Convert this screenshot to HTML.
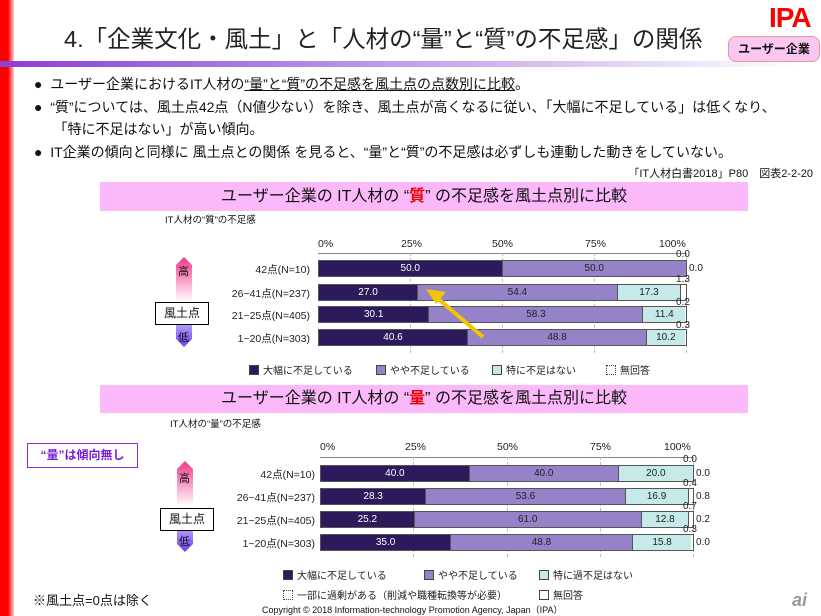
<!DOCTYPE html>
<html><head><meta charset="utf-8">
<style>
*{margin:0;padding:0;box-sizing:border-box}
body{width:821px;height:616px;background:#fff;position:relative;overflow:hidden;font-family:"Liberation Sans","Noto Sans CJK JP",sans-serif;color:#111}
.a{position:absolute;white-space:nowrap}
.bar{position:absolute;height:17px;display:flex;border:1px solid #555}
.bar div{height:100%;font-size:10px;line-height:15px;text-align:center;border-right:1px solid #555}
.d{background:#2d1a5c;color:#fff}.m{background:#9582c9;color:#222}.l{background:#c6e9ea;color:#222}
.s{font-size:10px;color:#222}
.lab{font-size:10.5px;color:#222;text-align:right;width:120px}
.leg{font-size:10px;color:#222}
.sq{display:inline-block;width:10px;height:10px;border:1px solid #444;vertical-align:-1px;margin-right:4px}
.grid{position:absolute;border-left:1px dashed #bbb}
</style></head><body>
<div class="a" style="left:0;top:0;width:14px;height:616px;background:linear-gradient(90deg,#f00 0,#f00 8px,#fcc 14px)"></div>
<div class="a" style="left:64px;top:20px;font-size:23.5px;color:#222">4.「企業文化・風土」と「人材の“量”と“質”の不足感」の関係</div>
<div class="a" style="left:0;top:61px;width:800px;height:6px;background:linear-gradient(90deg,#8a3ed8,#b58be6 40%,#fff)"></div>
<div class="a" style="left:769px;top:2px;font-size:28px;font-weight:bold;color:#f00;letter-spacing:-1px">IPA</div>
<div class="a" style="left:728px;top:36px;width:92px;height:26px;border-radius:8px;background:#fbc6f0;border:1px solid #d9a;font-size:12px;font-weight:bold;line-height:24px;text-align:center">ユーザー企業</div>
<div class="a" style="left:34px;top:73px;font-size:14px;line-height:22.5px">
<div>●&nbsp;&nbsp;ユーザー企業におけるIT人材の<u>“量”と“質”の不足感を風土点の点数別に比較</u>。</div>
<div>●&nbsp;&nbsp;“質”については、風土点42点（N値少ない）を除き、風土点が高くなるに従い、「大幅に不足している」は低くなり、</div>
<div>&nbsp;&nbsp;&nbsp;&nbsp;&nbsp;「特に不足はない」が高い傾向。</div>
<div>●&nbsp;&nbsp;IT企業の傾向と同様に 風土点との関係 を見ると、“量”と“質”の不足感は必ずしも連動した動きをしていない。</div>
</div>
<div class="a" style="right:8px;top:165px;font-size:11px">「IT人材白書2018」P80　図表2-2-20</div>
<div class="a" style="left:100px;top:182px;width:648px;height:29px;background:#fbb8fb;font-size:16px;line-height:29px;text-align:center">ユーザー企業の IT人材の “<span style="color:#e00;font-weight:bold">質</span>” の不足感を風土点別に比較</div>
<div class="a" style="left:165px;top:212px;font-size:9.5px">IT人材の“質”の不足感</div>
<div class="a s" style="left:318px;top:238px;font-size:10.5px">0%</div>
<div class="a s" style="left:401px;top:238px;font-size:10.5px">25%</div>
<div class="a s" style="left:492px;top:238px;font-size:10.5px">50%</div>
<div class="a s" style="left:585px;top:238px;font-size:10.5px">75%</div>
<div class="a s" style="left:659px;top:238px;font-size:10.5px">100%</div>
<div class="a" style="left:318px;top:253px;width:369px;border-top:1px solid #888"></div>
<div class="grid" style="left:410px;top:253px;height:100px"></div>
<div class="grid" style="left:502px;top:253px;height:100px"></div>
<div class="grid" style="left:594px;top:253px;height:100px"></div>
<div class="grid" style="left:686px;top:253px;height:100px"></div>
<div class="a lab" style="left:190px;top:262px">42点(N=10)</div>
<div class="a lab" style="left:190px;top:286px">26~41点(N=237)</div>
<div class="a lab" style="left:190px;top:308px">21~25点(N=405)</div>
<div class="a lab" style="left:190px;top:331px">1~20点(N=303)</div>
<div class="bar" style="left:318px;top:260px;width:369px"><div class="d" style="width:50%">50.0</div><div class="m" style="width:50%;border:0">50.0</div></div>
<div class="bar" style="left:318px;top:284px;width:369px"><div class="d" style="width:27%">27.0</div><div class="m" style="width:54.4%">54.4</div><div class="l" style="width:17.3%">17.3</div></div>
<div class="bar" style="left:318px;top:306px;width:369px"><div class="d" style="width:30.1%">30.1</div><div class="m" style="width:58.3%">58.3</div><div class="l" style="width:11.4%;border:0">11.4</div></div>
<div class="bar" style="left:318px;top:329px;width:369px"><div class="d" style="width:40.6%">40.6</div><div class="m" style="width:48.8%">48.8</div><div class="l" style="width:10.2%;border:0">10.2</div></div>
<div class="a s" style="left:676px;top:249px">0.0</div><div class="a s" style="left:689px;top:263px">0.0</div>
<div class="a s" style="left:676px;top:274px">1.3</div><div class="a s" style="left:676px;top:297px">0.2</div><div class="a s" style="left:676px;top:320px">0.3</div>
<svg class="a" style="left:0;top:0" width="821" height="616"><defs>
<linearGradient id="g" x1="0" y1="0" x2="0" y2="1"><stop offset="0" stop-color="#f0388c"/><stop offset=".5" stop-color="#fff"/><stop offset="1" stop-color="#6a3ef0"/></linearGradient></defs>
<polygon points="184,257 192,265 192,339 184,347 176,339 176,265" fill="url(#g)"/>
<polygon points="185,461 193,469 193,544 185,552 177,544 177,469" fill="url(#g)"/>
<line x1="483" y1="337" x2="436" y2="297" stroke="#f2c500" stroke-width="4"/>
<polygon points="426,289 446,292 436,304" fill="#f2c500"/>
</svg>
<div class="a" style="left:178px;top:263px;font-size:11px">高</div>
<div class="a" style="left:178px;top:329px;font-size:11px">低</div>
<div class="a" style="left:155px;top:302px;width:54px;height:23px;background:#fff;border:1px solid #000;font-size:12px;line-height:21px;text-align:center">風土点</div>
<div class="a leg" style="left:249px;top:362px"><span class="sq" style="background:#2d1a5c"></span>大幅に不足している</div>
<div class="a leg" style="left:376px;top:362px"><span class="sq" style="background:#9582c9"></span>やや不足している</div>
<div class="a leg" style="left:492px;top:362px"><span class="sq" style="background:#c6e9ea"></span>特に不足はない</div>
<div class="a leg" style="left:606px;top:362px"><span class="sq" style="border-style:dotted"></span>無回答</div>
<div class="a" style="left:100px;top:385px;width:648px;height:28px;background:#fbb8fb;font-size:16px;line-height:28px;text-align:center">ユーザー企業の IT人材の “<span style="color:#e00;font-weight:bold">量</span>” の不足感を風土点別に比較</div>
<div class="a" style="left:170px;top:416px;font-size:9.5px">IT人材の“量”の不足感</div>
<div class="a" style="left:27px;top:443px;width:111px;height:25px;border:1px solid #8a2be2;color:#7a1fd8;font-size:12px;font-weight:bold;line-height:23px;text-align:center">“量”は傾向無し</div>
<div class="a s" style="left:320px;top:441px;font-size:10.5px">0%</div>
<div class="a s" style="left:405px;top:441px;font-size:10.5px">25%</div>
<div class="a s" style="left:497px;top:441px;font-size:10.5px">50%</div>
<div class="a s" style="left:590px;top:441px;font-size:10.5px">75%</div>
<div class="a s" style="left:664px;top:441px;font-size:10.5px">100%</div>
<div class="a" style="left:320px;top:457px;width:374px;border-top:1px solid #888"></div>
<div class="grid" style="left:413px;top:457px;height:100px"></div>
<div class="grid" style="left:507px;top:457px;height:100px"></div>
<div class="grid" style="left:600px;top:457px;height:100px"></div>
<div class="grid" style="left:693px;top:457px;height:100px"></div>
<div class="a lab" style="left:195px;top:467px">42点(N=10)</div>
<div class="a lab" style="left:195px;top:490px">26~41点(N=237)</div>
<div class="a lab" style="left:195px;top:513px">21~25点(N=405)</div>
<div class="a lab" style="left:195px;top:536px">1~20点(N=303)</div>
<div class="bar" style="left:320px;top:465px;width:374px"><div class="d" style="width:40%">40.0</div><div class="m" style="width:40%">40.0</div><div class="l" style="width:20%;border:0">20.0</div></div>
<div class="bar" style="left:320px;top:488px;width:374px"><div class="d" style="width:28.3%">28.3</div><div class="m" style="width:53.6%">53.6</div><div class="l" style="width:16.9%">16.9</div></div>
<div class="bar" style="left:320px;top:511px;width:374px"><div class="d" style="width:25.2%">25.2</div><div class="m" style="width:61%">61.0</div><div class="l" style="width:12.8%">12.8</div></div>
<div class="bar" style="left:320px;top:534px;width:374px"><div class="d" style="width:35%">35.0</div><div class="m" style="width:48.8%">48.8</div><div class="l" style="width:15.8%;border:0">15.8</div></div>
<div class="a s" style="left:683px;top:454px">0.0</div><div class="a s" style="left:696px;top:468px">0.0</div>
<div class="a s" style="left:683px;top:478px">0.4</div><div class="a s" style="left:696px;top:491px">0.8</div>
<div class="a s" style="left:683px;top:501px">0.7</div><div class="a s" style="left:696px;top:514px">0.2</div>
<div class="a s" style="left:683px;top:524px">0.3</div><div class="a s" style="left:696px;top:537px">0.0</div>
<div class="a" style="left:179px;top:470px;font-size:11px">高</div>
<div class="a" style="left:179px;top:533px;font-size:11px">低</div>
<div class="a" style="left:160px;top:508px;width:54px;height:23px;background:#fff;border:1px solid #000;font-size:12px;line-height:21px;text-align:center">風土点</div>
<div class="a leg" style="left:283px;top:567px"><span class="sq" style="background:#2d1a5c"></span>大幅に不足している</div>
<div class="a leg" style="left:424px;top:567px"><span class="sq" style="background:#9582c9"></span>やや不足している</div>
<div class="a leg" style="left:539px;top:567px"><span class="sq" style="background:#c6e9ea"></span>特に過不足はない</div>
<div class="a leg" style="left:283px;top:587px"><span class="sq" style="border-style:dotted"></span>一部に過剰がある（削減や職種転換等が必要）</div>
<div class="a leg" style="left:539px;top:587px"><span class="sq"></span>無回答</div>
<div class="a" style="left:33px;top:590px;font-size:13px">※風土点=0点は除く</div>
<div class="a" style="left:262px;top:603px;font-size:9px">Copyright © 2018 Information-technology Promotion Agency, Japan（IPA）</div>
<div class="a" style="left:792px;top:590px;font-size:18px;font-style:italic;color:#999;font-weight:bold">ai</div>
</body></html>
